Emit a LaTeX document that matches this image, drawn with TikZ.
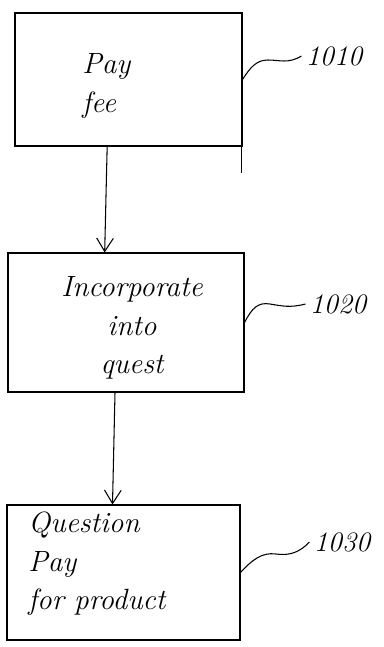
\documentclass[tikz,border=0pt]{standalone}
\usepackage{tikz}
\usetikzlibrary{arrows.meta, positioning}

\begin{document}
\begin{tikzpicture}[x=0.3mm, y=-0.3mm, line width=0.9pt,
    every node/.style={font=\itshape\fontsize{25}{33}\selectfont},
    >={Straight Barb[length=4mm, width=5mm]},
    sketchbox/.style={draw, rectangle, inner sep=0pt},
    refnum/.style={font=\itshape\fontsize{24}{28}\selectfont}]
  \useasboundingbox (0,0) rectangle (383,647);

  % Step boxes
  \node[sketchbox, minimum width=68.1mm, minimum height=39.9mm] (b1) at (128.5,79.5) {};
  \node[sketchbox, minimum width=70.8mm, minimum height=41.7mm] (b2) at (126,322.5) {};
  \node[sketchbox, minimum width=69.9mm, minimum height=40.5mm] (b3) at (123.5,572.5) {};

  % Texts inside the boxes
  \node[align=left, anchor=west] (t1) at (78,86) {Pay\\fee};
  \node[align=center] (t2) at (132,328) {Incorporate\\into\\quest};
  \node[align=left, anchor=west] (t3) at (24,564) {Question\\Pay\\for product};

  % Reference numbers
  \node[refnum] (l1) at (334,56) {1010};
  \node[refnum] (l2) at (338,304) {1020};
  \node[refnum] (l3) at (342,542) {1030};

  % Flow arrows
  \draw[->] ([xshift=-6.4mm]b1.south) -- ([xshift=-6.4mm]b2.north);
  \draw[->] ([xshift=-3.3mm]b2.south) -- ([xshift=-3.3mm]b3.north);
  \draw ([xshift=-0.3mm]b1.south east) -- ++(0,26);

  % Leader squiggles
  \draw (b1.east) .. controls (250,68) and (256,60) .. (268,60)
    .. controls (280,60) and (288,64) .. (l1.west);
  \draw (b2.east) .. controls (252,308) and (258,302) .. (270,304)
    .. controls (282,306) and (290,308) .. (l2.west);
  \draw (b3.east) .. controls (252,560) and (262,552) .. (276,554)
    .. controls (290,556) and (300,552) .. (l3.west);
\end{tikzpicture}
\end{document}
